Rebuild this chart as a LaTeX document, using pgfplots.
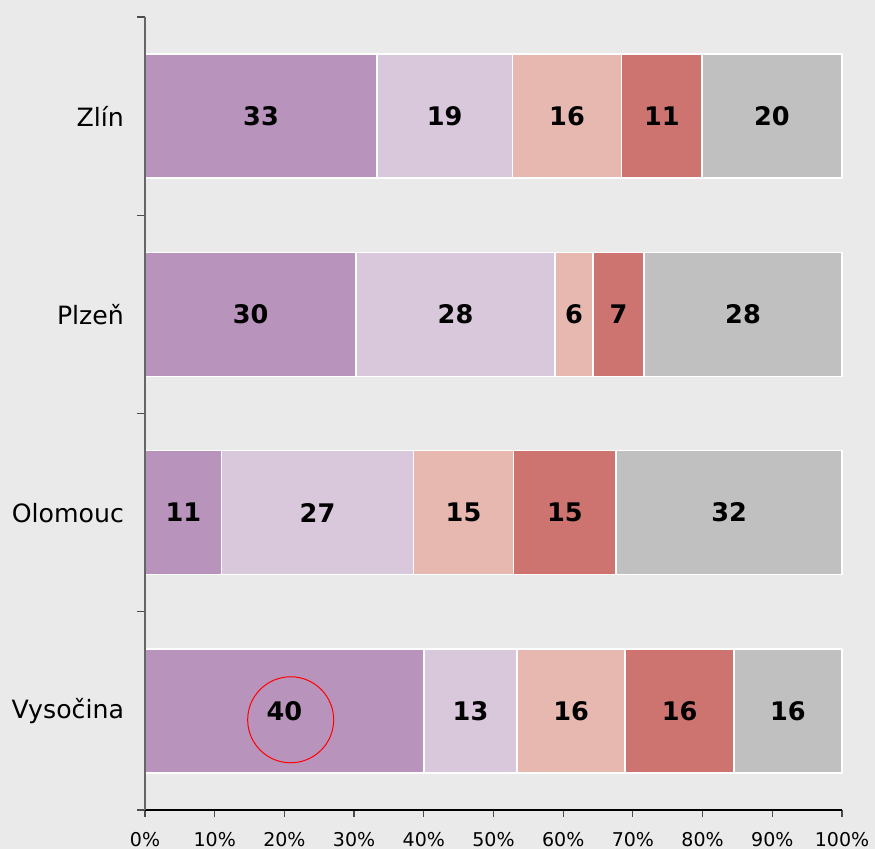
\documentclass[border=0pt]{standalone}
\usepackage{fontspec}
\setmainfont{DejaVu Sans}
\usepackage{pgfplots}
\usepackage{pgfplotstable}
\pgfplotsset{compat=1.18}
\definecolor{bgc}{HTML}{EAEAEA}
\definecolor{c1}{HTML}{B894BC}
\definecolor{c2}{HTML}{D9C7DC}
\definecolor{c3}{HTML}{E6B8B0}
\definecolor{c4}{HTML}{CD7470}
\definecolor{c5}{HTML}{C0C0C0}
\pgfplotstableread{
y v1 l1 v2 l2 v3 l3 v4 l4 v5 l5
0 40.0 40 13.4 13 15.5 16 15.6 16 15.5 16
1 11.0 11 27.5 27 14.4 15 14.7 15 32.4 32
2 30.3 30 28.5 28 5.5 6 7.3 7 28.4 28
3 33.3 33 19.4 19 15.7 16 11.5 11 20.1 20
}\data
\begin{document}
\begin{tikzpicture}
\fill[bgc] (0,0) rectangle (437.5pt,424.5pt);
\begin{axis}[
  at={(72.5pt,19.5pt)}, anchor=south west,
  width=348.5pt, height=396.5pt, scale only axis,
  xbar stacked, bar width=62pt,
  xmin=0, xmax=100, ymin=-0.5, ymax=3.5,
  axis x line*=bottom, axis y line*=left,
  axis on top,
  x axis line style={black, line width=0.6pt},
  y axis line style={black!60, line width=0.6pt},
  xtick={0,10,...,100},
  xticklabel={\pgfmathprintnumber{\tick}\%},
  ytick={0,1,2,3}, yticklabels={Vysočina,Olomouc,Plzeň,Zlín},
  minor ytick={-0.5,0.5,1.5,2.5,3.5},
  tick align=outside,
  major tick length=3.5pt, minor tick length=4pt,
  major y tick style={draw=none},
  minor y tick style={black!70, line width=0.6pt},
  major x tick style={black!70, line width=0.6pt},
  /pgf/number format/assume math mode=true,
  xticklabel style={font=\fontsize{9.5}{11}\selectfont, yshift=-4pt},
  yticklabel style={font=\fontsize{12.6}{14}\selectfont, xshift=-3.5pt},
  point meta=explicit symbolic,
  nodes near coords,
  nodes near coords align={center},
  every node near coord/.append style={font=\fontsize{12.8}{14}\bfseries\selectfont, black, anchor=center},
  clip=false,
]
\addplot+[fill=c1, draw=white, line width=0.75pt] table[x=v1, y=y, meta=l1] {\data};
\addplot+[fill=c2, draw=white, line width=0.75pt] table[x=v2, y=y, meta=l2] {\data};
\addplot+[fill=c3, draw=white, line width=0.75pt] table[x=v3, y=y, meta=l3] {\data};
\addplot+[fill=c4, draw=white, line width=0.75pt] table[x=v4, y=y, meta=l4] {\data};
\addplot+[fill=c5, draw=white, line width=0.75pt] table[x=v5, y=y, meta=l5] {\data};
\coordinate (circ) at (axis cs:20.9,-0.045);
\end{axis}
\draw[red, line width=0.5pt] (circ) circle (21.5pt);
\pgfresetboundingbox
\path (0,0) rectangle (437.5pt,424.5pt);
\end{tikzpicture}
\end{document}
